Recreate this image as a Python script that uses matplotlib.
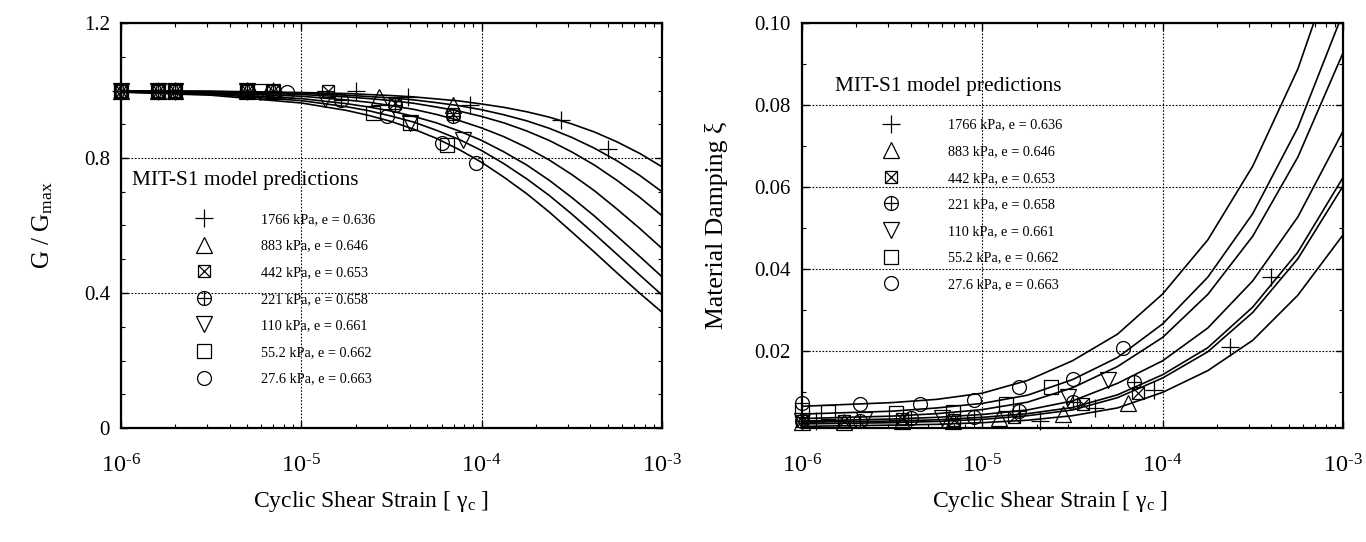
import math
import matplotlib
matplotlib.use('Agg')
import matplotlib.pyplot as plt
from matplotlib.ticker import LogLocator, MultipleLocator, FixedLocator, NullFormatter, FormatStrFormatter, FuncFormatter
from matplotlib.legend_handler import HandlerTuple

plt.rcParams['font.family'] = ['Liberation Serif', 'DejaVu Serif']
plt.rcParams['mathtext.fontset'] = 'custom'
plt.rcParams['mathtext.rm'] = 'Liberation Serif'
plt.rcParams['mathtext.it'] = 'Liberation Serif:italic'

# ---------------- data ----------------
labels = ["1766 kPa, e = 0.636", "883 kPa, e = 0.646", "442 kPa, e = 0.653",
          "221 kPa, e = 0.658", "110 kPa, e = 0.661", "55.2 kPa, e = 0.662",
          "27.6 kPa, e = 0.663"]

# model curves: G/Gmax
g_curve_strain = [1e-6, 3.16e-6, 1e-5, 1.78e-5, 2.37e-5, 3.16e-5, 4.22e-5, 5.62e-5, 7.5e-5,
                  1e-4, 1.33e-4, 1.78e-4, 2.37e-4, 3.16e-4, 4.22e-4, 5.62e-4, 7.5e-4, 1e-3]
g_curve_1766 = [0.999, 0.998, 0.994, 0.991, 0.988, 0.985, 0.981, 0.975, 0.969, 0.960, 0.950, 0.937, 0.921, 0.901, 0.877, 0.848, 0.814, 0.774]
g_curve_883 = [0.999, 0.997, 0.992, 0.986, 0.982, 0.978, 0.972, 0.964, 0.955, 0.943, 0.928, 0.910, 0.888, 0.861, 0.829, 0.792, 0.749, 0.700]
g_curve_442 = [0.998, 0.996, 0.988, 0.981, 0.976, 0.970, 0.962, 0.951, 0.939, 0.923, 0.904, 0.880, 0.852, 0.818, 0.779, 0.734, 0.684, 0.629]
g_curve_221 = [0.998, 0.993, 0.983, 0.972, 0.965, 0.955, 0.944, 0.929, 0.911, 0.889, 0.863, 0.831, 0.794, 0.751, 0.703, 0.649, 0.592, 0.532]
g_curve_110 = [0.997, 0.991, 0.976, 0.961, 0.951, 0.939, 0.923, 0.904, 0.880, 0.852, 0.818, 0.779, 0.734, 0.683, 0.628, 0.569, 0.509, 0.448]
g_curve_55 = [0.996, 0.989, 0.970, 0.952, 0.940, 0.924, 0.906, 0.882, 0.855, 0.822, 0.783, 0.738, 0.689, 0.634, 0.575, 0.515, 0.454, 0.394]
g_curve_27 = [0.995, 0.986, 0.963, 0.941, 0.926, 0.908, 0.885, 0.858, 0.825, 0.787, 0.743, 0.694, 0.640, 0.581, 0.521, 0.460, 0.400, 0.343]

# model curves: damping ratio
d_curve_strain = [1e-6, 3.16e-6, 5.62e-6, 1e-5, 1.78e-5, 3.16e-5, 5.62e-5, 1e-4, 1.78e-4, 3.16e-4, 5.62e-4, 1e-3]
d_curve_1766 = [0.0016, 0.0019, 0.0021, 0.0025, 0.0031, 0.0042, 0.0061, 0.0099, 0.0152, 0.0226, 0.0336, 0.0483]
d_curve_883 = [0.0022, 0.0025, 0.0028, 0.0033, 0.0042, 0.0056, 0.0086, 0.0134, 0.0198, 0.0294, 0.0425, 0.0602]
d_curve_442 = [0.0026, 0.0029, 0.0032, 0.0038, 0.0047, 0.0062, 0.0093, 0.0142, 0.0208, 0.0307, 0.0441, 0.0623]
d_curve_221 = [0.0029, 0.0034, 0.0038, 0.0045, 0.0056, 0.0078, 0.0121, 0.0176, 0.0256, 0.0371, 0.0527, 0.0736]
d_curve_110 = [0.0035, 0.0041, 0.0047, 0.0057, 0.0075, 0.0110, 0.0162, 0.0233, 0.0338, 0.0480, 0.0673, 0.0927]
d_curve_55 = [0.0046, 0.0053, 0.0061, 0.0072, 0.0092, 0.0130, 0.0184, 0.0266, 0.0380, 0.0535, 0.0745, 0.1025]
d_curve_27 = [0.0065, 0.0074, 0.0082, 0.0097, 0.0128, 0.0176, 0.0241, 0.0339, 0.0471, 0.0651, 0.0888, 0.1206]

# measured G/Gmax
g_x_1766 = [1e-6, 1.6e-6, 2e-6, 5e-6, 7e-6, 2.0e-5, 3.9e-5, 8.6e-5, 2.77e-4, 5.0e-4]
g_y_1766 = [1.0, 1.0, 1.0, 1.0, 1.0, 0.998, 0.982, 0.957, 0.913, 0.826]
g_x_883 = [1e-6, 1.6e-6, 2e-6, 5e-6, 7e-6, 2.68e-5, 6.9e-5]
g_y_883 = [1.0, 1.0, 1.0, 1.0, 1.0, 0.980, 0.957]
g_x_442 = [1e-6, 1.6e-6, 2e-6, 5e-6, 7e-6, 1.4e-5, 3.3e-5, 6.9e-5]
g_y_442 = [1.0, 1.0, 1.0, 1.0, 1.0, 1.0, 0.962, 0.930]
g_x_221 = [1e-6, 1.6e-6, 2e-6, 5e-6, 7e-6, 1.66e-5, 3.3e-5, 6.9e-5]
g_y_221 = [1.0, 1.0, 1.0, 1.0, 1.0, 0.972, 0.958, 0.925]
g_x_110 = [1e-6, 1.6e-6, 2e-6, 5e-6, 5.9e-6, 1.35e-5, 4.0e-5, 7.9e-5]
g_y_110 = [1.0, 1.0, 1.0, 1.0, 0.995, 0.975, 0.905, 0.853]
g_x_55 = [1e-6, 1.6e-6, 2e-6, 5e-6, 7e-6, 2.5e-5, 4.0e-5, 6.4e-5]
g_y_55 = [1.0, 1.0, 1.0, 1.0, 1.0, 0.933, 0.905, 0.840]
g_x_27 = [1e-6, 1.6e-6, 2e-6, 5e-6, 8.3e-6, 3.0e-5, 6.0e-5, 9.3e-5]
g_y_27 = [1.0, 1.0, 1.0, 1.0, 0.995, 0.924, 0.844, 0.784]

# measured damping
d_x_1766 = [1.2e-6, 2.1e-5, 4.2e-5, 8.9e-5, 2.35e-4, 4.0e-4]
d_y_1766 = [0.0028, 0.0030, 0.0060, 0.0105, 0.0210, 0.0381]
d_x_883 = [1e-6, 1.7e-6, 3.6e-6, 6.9e-6, 1.23e-5, 2.8e-5, 6.4e-5]
d_y_883 = [0.0026, 0.0027, 0.0028, 0.0030, 0.0036, 0.0045, 0.0074]
d_x_442 = [1e-6, 1.7e-6, 3.6e-6, 7.0e-6, 1.5e-5, 3.6e-5, 7.3e-5]
d_y_442 = [0.0028, 0.0030, 0.0033, 0.0032, 0.0040, 0.0071, 0.0097]
d_x_221 = [1e-6, 2.1e-6, 4.0e-6, 9.0e-6, 1.6e-5, 3.2e-5, 6.9e-5]
d_y_221 = [0.0030, 0.0030, 0.0036, 0.0040, 0.0053, 0.0076, 0.0123]
d_x_110 = [1e-6, 2.2e-6, 6.0e-6, 3.0e-5, 5.0e-5]
d_y_110 = [0.0028, 0.0031, 0.0036, 0.0087, 0.0128]
d_x_55 = [1e-6, 1.4e-6, 3.3e-6, 6.9e-6, 1.36e-5, 2.4e-5]
d_y_55 = [0.0056, 0.0052, 0.0049, 0.0052, 0.0071, 0.0111]
d_x_27 = [1e-6, 2.1e-6, 4.5e-6, 9.0e-6, 1.6e-5, 3.2e-5, 6.0e-5]
d_y_27 = [0.0072, 0.0071, 0.0071, 0.0081, 0.0111, 0.0131, 0.0206]

g_curves = [g_curve_1766, g_curve_883, g_curve_442, g_curve_221, g_curve_110, g_curve_55, g_curve_27]
d_curves = [d_curve_1766, d_curve_883, d_curve_442, d_curve_221, d_curve_110, d_curve_55, d_curve_27]
g_pts = [(g_x_1766, g_y_1766), (g_x_883, g_y_883), (g_x_442, g_y_442), (g_x_221, g_y_221),
         (g_x_110, g_y_110), (g_x_55, g_y_55), (g_x_27, g_y_27)]
d_pts = [(d_x_1766, d_y_1766), (d_x_883, d_y_883), (d_x_442, d_y_442), (d_x_221, d_y_221),
         (d_x_110, d_y_110), (d_x_55, d_y_55), (d_x_27, d_y_27)]

# marker style per series: list of (marker, size)
marker_parts = [[('+', 13)], [('^', 11)], [('s', 9), ('x', 9)], [('o', 10), ('+', 10)],
                [('v', 11)], [('s', 9.5)], [('o', 10)]]

fig = plt.figure(figsize=(13.66, 5.42), dpi=100)
axL = fig.add_axes([121/1366, 1 - 428/542, 541/1366, 405/542])
axR = fig.add_axes([802/1366, 1 - 428/542, 541/1366, 405/542])


def pow_label(v, p):
    return r'$10^{‐%d}$' % (-round(math.log10(v)))


def style_axis(ax, label_x):
    ax.set_xscale('log')
    ax.set_xlim(1e-6, 1e-3)
    ax.xaxis.set_major_locator(FixedLocator([1e-6, 1e-5, 1e-4, 1e-3]))
    ax.xaxis.set_minor_locator(LogLocator(base=10, subs=range(2, 10)))
    ax.xaxis.set_minor_formatter(NullFormatter())
    ax.xaxis.set_major_formatter(FuncFormatter(pow_label))
    ax.tick_params(which='both', direction='in', top=True, right=True, labelsize=15)
    ax.tick_params(axis='x', which='major', labelsize=17.5)
    ax.tick_params(which='major', length=5, width=1)
    ax.tick_params(which='minor', length=3, width=0.8)
    ax.tick_params(axis='x', which='major', pad=19)
    ax.tick_params(axis='y', which='major', pad=8)
    for s in ax.spines.values():
        s.set_linewidth(1.6)
    ax.grid(True, which='major', color='black', linestyle=(0, (1.5, 1.5)), linewidth=0.8)
    ax.set_xlabel(r'Cyclic Shear Strain [ γ$_{\rm c}$ ]', fontsize=17, labelpad=8)
    ax.xaxis.label.set_x(label_x)


def draw(ax, cx, curves, pts):
    handles = []
    for curve in curves:
        ax.plot(cx, curve, color='black', lw=1.2, zorder=3)
    for (xs, ys), parts in zip(pts, marker_parts):
        hs = []
        for m, ms in parts:
            h, = ax.plot(xs, ys, linestyle='none', marker=m, markersize=ms, mfc='none',
                         mec='black', mew=0.9, zorder=4, clip_on=False)
            hs.append(h)
        handles.append(tuple(hs))
    return handles


leg_kw = dict(loc='upper left', frameon=False, fontsize=10.3,
              handler_map={tuple: HandlerTuple(ndivide=1)}, handlelength=2,
              handletextpad=3.0, labelspacing=0.95, borderpad=0, borderaxespad=0, numpoints=1)

# ---------- left ----------
style_axis(axL, 0.462)
axL.set_ylim(0, 1.2)
axL.yaxis.set_major_locator(FixedLocator([0, 0.4, 0.8, 1.2]))
axL.yaxis.set_major_formatter(FuncFormatter(lambda v, p: '0' if v == 0 else '%.1f' % v))
axL.yaxis.set_minor_locator(MultipleLocator(0.1))
hL = draw(axL, g_curve_strain, g_curves, g_pts)
axL.set_ylabel(r'G / G$_{\rm max}$', fontsize=18, labelpad=21)
axL.text(0.020, 0.612, 'MIT-S1 model predictions', transform=axL.transAxes, fontsize=15.4,
         ha='left', va='center')
axL.legend(hL, labels, bbox_to_anchor=(0.127, 0.531), **leg_kw)

# ---------- right ----------
style_axis(axR, 0.458)
axR.set_ylim(0.0012, 0.10)
axR.yaxis.set_major_locator(FixedLocator([0.02, 0.04, 0.06, 0.08, 0.10]))
axR.yaxis.set_major_formatter(FormatStrFormatter('%.2f'))
axR.yaxis.set_minor_locator(FixedLocator([0.01, 0.03, 0.05, 0.07, 0.09]))
hR = draw(axR, d_curve_strain, d_curves, d_pts)
axR.set_ylabel('Material Damping ξ', fontsize=18.5, labelpad=19)
axR.text(0.061, 0.842, 'MIT-S1 model predictions', transform=axR.transAxes, fontsize=15.4,
         ha='left', va='center')
axR.legend(hR, labels, bbox_to_anchor=(0.138, 0.764), **leg_kw)

fig.savefig('out.png', dpi=100)
